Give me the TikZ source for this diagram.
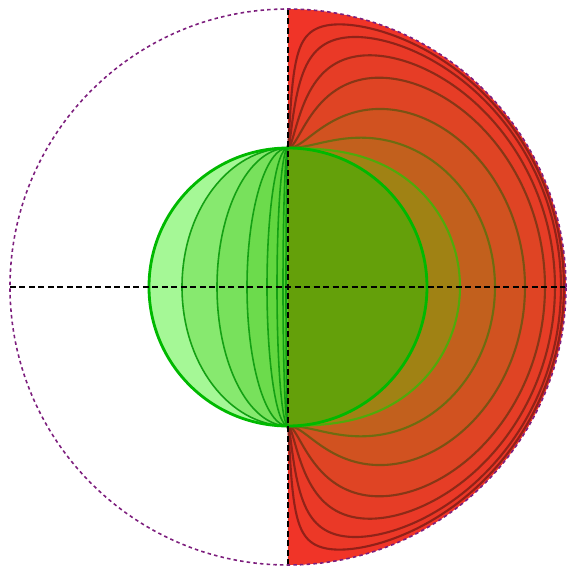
\documentclass[tikz,border=0pt]{standalone}
\usepackage{tikz}
\definecolor{redout}{RGB}{240,52,40}
\definecolor{redin}{RGB}{160,130,20}
\definecolor{lineout}{RGB}{150,25,25}
\definecolor{linein}{RGB}{80,170,10}
\definecolor{grout}{RGB}{165,248,150}
\definecolor{grin}{RGB}{80,205,40}
\definecolor{greenhalf}{RGB}{100,160,10}
\definecolor{grline}{RGB}{20,160,20}
\definecolor{circline}{RGB}{0,185,0}
\definecolor{purp}{RGB}{125,30,125}
\newcommand{\rin}{1.39}
\newcommand{\Rout}{2.78}

\begin{document}
\begin{tikzpicture}[
  axis/.style={line width=0.55pt, black, dash pattern=on 1.7pt off 1pt},
  rim/.style={line width=0.45pt, purp, dash pattern=on 1pt off 0.9pt},
  band/.style={line width=0.6pt},
  lens/.style={draw=grline, line width=0.45pt},
  ball/.style={draw=circline, line width=0.8pt}
]
\useasboundingbox (-2.88,-2.81) rectangle (2.79,2.87);
\coordinate (O) at (0,0);
\coordinate (N) at (0,\rin);
\coordinate (W) at (-\Rout,0);
\coordinate (E) at (\Rout,0);
\coordinate (T) at (0,\Rout);
\coordinate (B) at (0,-\Rout);
% red half disc and its bands, outermost first
\fill[redout] (T) arc[start angle=90, end angle=-90, radius=\Rout] -- cycle;
\foreach \a/\p in {0.02/5,0.05/7,0.11/12,0.21/21,0.41/39,0.71/57,1.06/100}
  \draw[band, draw=linein!\p!lineout, fill=redin!\p!redout]
    plot[domain=-90:90, samples=241, variable=\t]
      ({90*sin(\t)}:{2*\rin-1/sqrt((cos(90*sin(\t))/\a)^2+(sin(90*sin(\t))/\rin)^2)}) -- cycle;
% green disc
\fill[greenhalf] (N) arc[start angle=90, end angle=-90, radius=\rin] -- cycle;
\fill[grout] (N) arc[start angle=90, end angle=270, radius=\rin] -- cycle;
\foreach \a/\q in {1.06/65,0.71/47,0.41/33,0.21/21,0.11/12,0.05/6,0.02/0} {
  \fill[grout!\q!grin] (N) arc[start angle=90, end angle=270, x radius=\a, y radius=\rin] -- cycle;
  \draw[lens] (N) arc[start angle=90, end angle=270, x radius=\a, y radius=\rin];
}
\draw[ball] (O) circle[radius=\rin];
% axes and outer circle
\draw[axis] (W) -- (E);
\draw[axis] (B) -- (T);
\draw[rim] (O) circle[radius=\Rout];
\end{tikzpicture}
\end{document}
